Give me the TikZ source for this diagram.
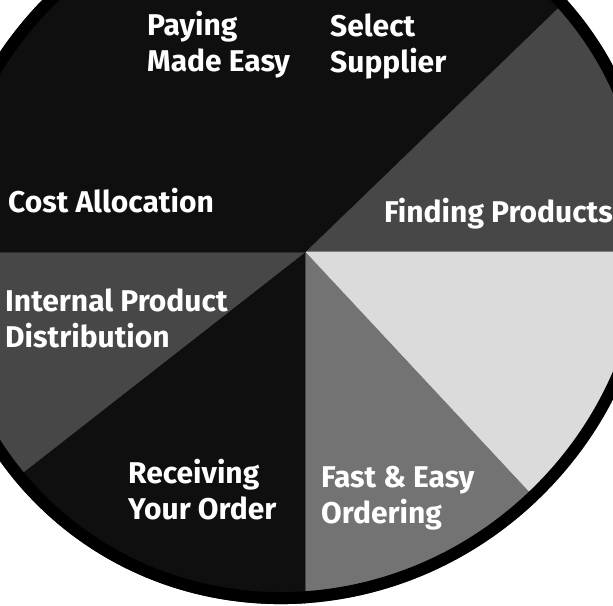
\documentclass[tikz,border=0pt]{standalone}
\usepackage{fontspec}
\setmainfont{Fira Sans}
\usepackage{tikz}

\begin{document}
\begin{tikzpicture}[x=1pt,y=-1pt,
  lbl/.style={text=white,font=\bfseries\fontsize{30}{36}\selectfont,align=left,anchor=north west,inner sep=0pt}]
  \useasboundingbox (0,0) rectangle (613,605);
  \fill[white] (0,0) rectangle (613,605);
  \begin{scope}
    \clip[rotate around={45:(295,245)}] (295,245) ellipse [x radius=366,y radius=352];
    \begin{scope}[shift={(305,252)}]
      \foreach \a/\b/\c in {-44/0/black!72, 0/47/black!14, 47/90/black!55, 90/142/black!94,
                            142/180/black!72, 180/316/black!94}
        \filldraw[fill=\c,draw=\c,line width=0.6] (0,0) -- (\a:700) arc[start angle=\a,end angle=\b,radius=700] -- cycle;
    \end{scope}
  \end{scope}
  \draw[line width=12,rotate around={45:(295,245)}] (295,245) ellipse [x radius=360,y radius=346];
  \node[lbl] (paying) at (147,11) {Paying\\Made Easy};
  \node[lbl] (select) at (330,14) {Select\\Supplier};
  \node[lbl] (cost) at (8,188) {Cost Allocation};
  \node[lbl] (finding) at (384,198) {Finding Products};
  \node[lbl] (internal) at (5,289) {Internal Product\\Distribution};
  \node[lbl] (receiving) at (128,459) {Receiving\\Your Order};
  \node[lbl] (fast) at (321,466) {Fast \& Easy\\Ordering};
\end{tikzpicture}
\end{document}
